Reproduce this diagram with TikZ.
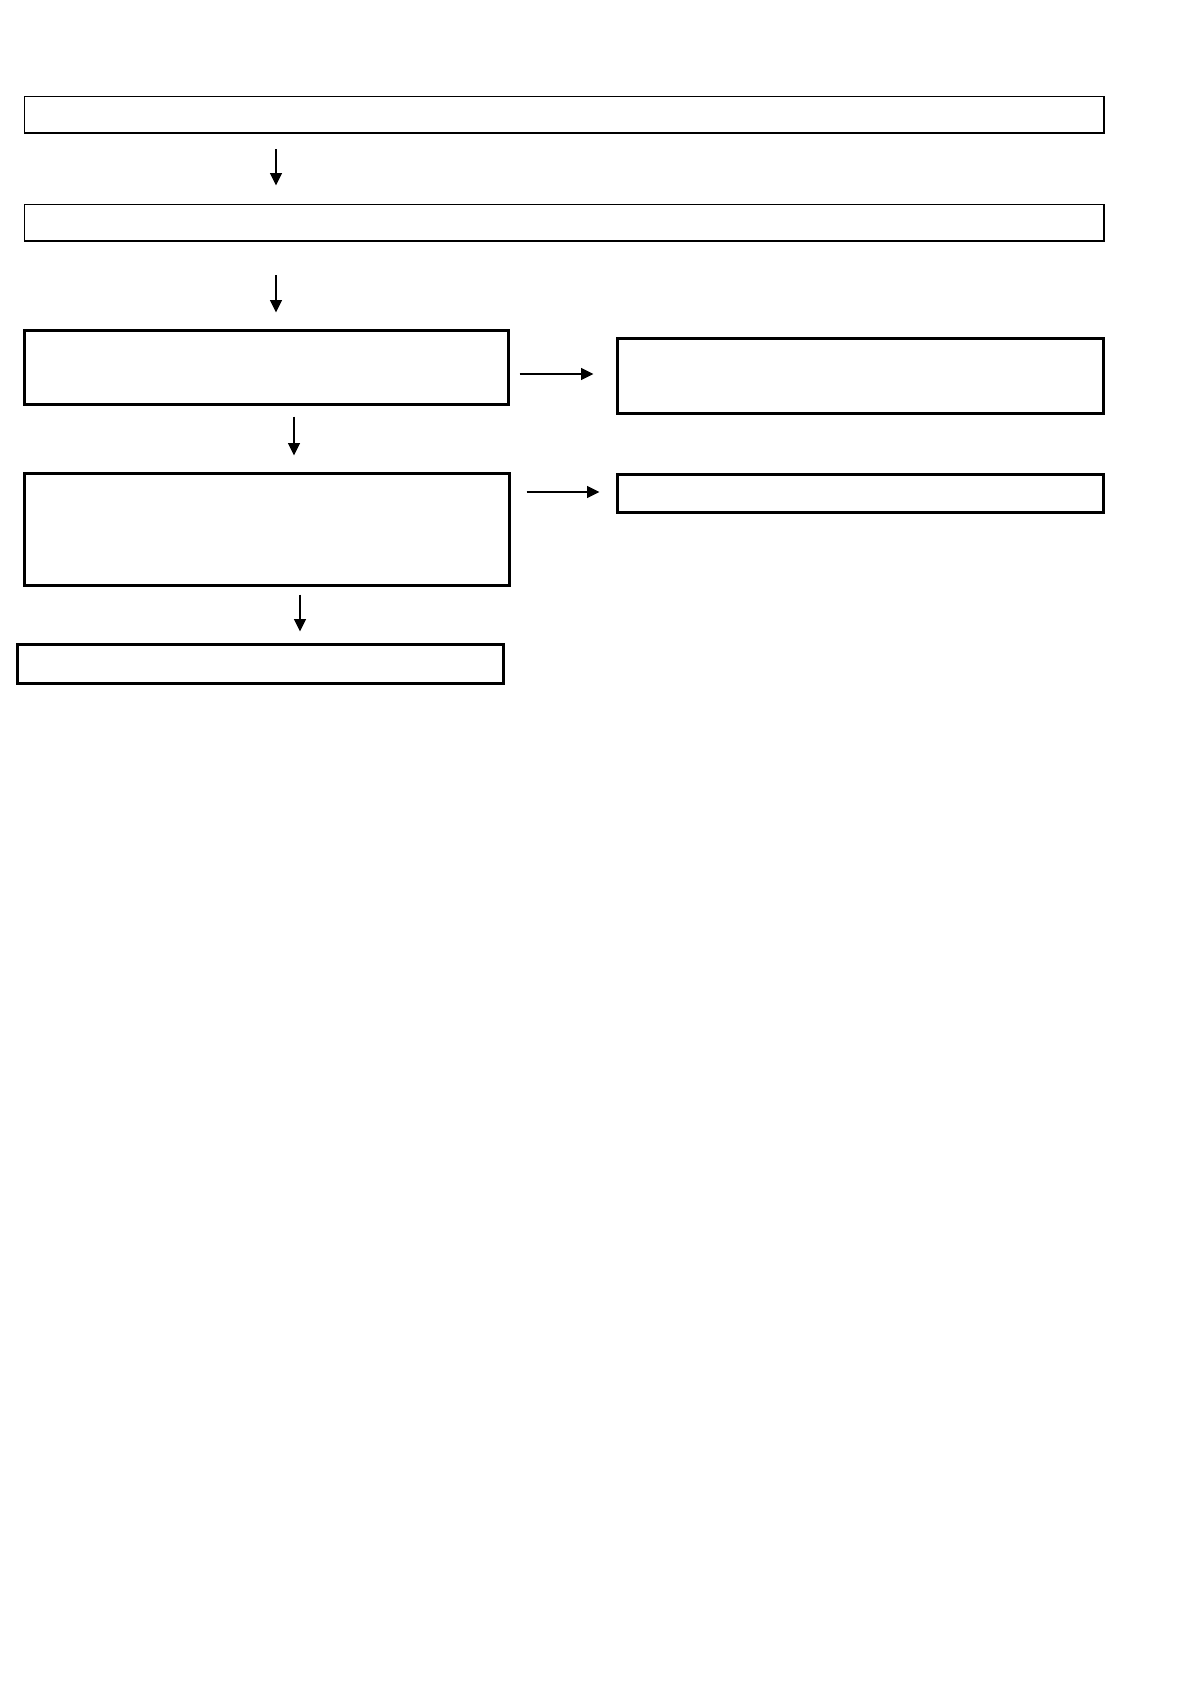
\documentclass[tikz,border=0pt]{standalone}
\usetikzlibrary{arrows.meta}
\begin{document}
\begin{tikzpicture}[x=1pt,y=-1pt,
  thinbox/.style={draw=black,line width=1.6pt,inner sep=0pt,outer sep=0pt,anchor=north west},
  thickbox/.style={draw=black,line width=3.4pt,inner sep=0pt,outer sep=0pt,anchor=north west},
  arr/.style={draw=black,line width=1.4pt,-{Triangle[length=12.5pt,width=12pt]}}]
\fill[white] (0,0) rectangle (1190,1684);
\useasboundingbox (0,0) rectangle (1190,1684);
% boxes (positions are line centres)
\node[thinbox,minimum width=1079.5pt,minimum height=36.5pt] (b1) at (24.5,96.5) {};
\node[thinbox,minimum width=1079.5pt,minimum height=36.5pt] (b2) at (24.5,204.5) {};
\node[thickbox,minimum width=484pt,minimum height=74pt] (b3) at (24.5,330.5) {};
\node[thickbox,minimum width=486pt,minimum height=75pt] (b4) at (617.5,338.5) {};
\node[thickbox,minimum width=485pt,minimum height=112pt] (b5) at (24.5,473.5) {};
\node[thickbox,minimum width=486pt,minimum height=38pt] (b6) at (617.5,474.5) {};
\node[thickbox,minimum width=486pt,minimum height=39pt] (b7) at (17.5,644.5) {};
% arrow axes
\coordinate (x1) at (276,0);
\coordinate (x4) at (294,0);
\coordinate (x6) at (300,0);
\coordinate (y3) at (0,374);
\coordinate (y5) at (0,492);
% connectors
\draw[arr,shorten <=16pt,shorten >=19pt] (b1.south -| x1) -- (b2.north -| x1);
\draw[arr,shorten <=34pt,shorten >=18pt] (b2.south -| x1) -- (b3.north -| x1);
\draw[arr,shorten <=11pt,shorten >=24pt] (b3.east |- y3) -- (b4.west |- y3);
\draw[arr,shorten <=12pt,shorten >=18pt] (b3.south -| x4) -- (b5.north -| x4);
\draw[arr,shorten <=17pt,shorten >=18pt] (b5.east |- y5) -- (b6.west |- y5);
\draw[arr,shorten <=9pt,shorten >=13pt] (b5.south -| x6) -- (b7.north -| x6);
\end{tikzpicture}
\end{document}
